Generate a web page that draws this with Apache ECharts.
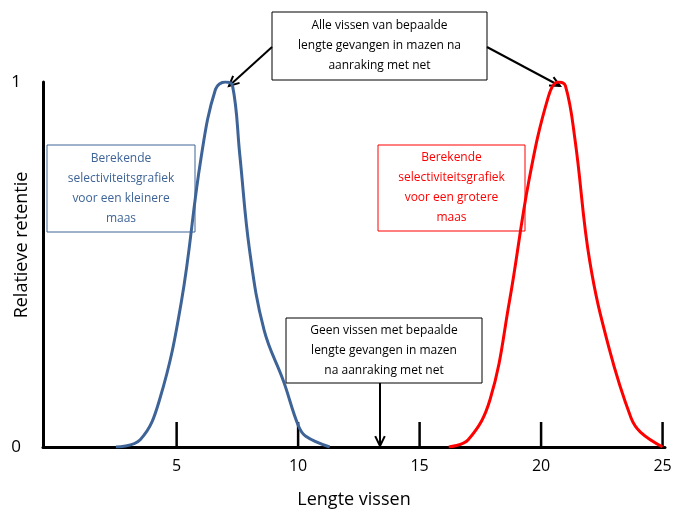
<!DOCTYPE html><html><head><meta charset="utf-8"><script src="https://cdn.jsdelivr.net/npm/echarts@6/dist/echarts.min.js"></script></head><body style="margin:0"><div id="c" style="width:675px;height:514px"></div><script>
const blueX=[2.5,3.5,4.3,5.2,6.0,6.6,7.0,7.3,7.6,8.0,8.6,9.4,10.0,10.3,11.3];
const blueY=[0,0.02,0.13,0.4,0.79,0.98,1,0.99,0.8,0.54,0.32,0.18,0.06,0.03,0];
const redX=[16.2,17.0,17.9,18.7,19.5,20.3,20.7,21.0,21.4,22.0,22.8,23.7,24.1,25.0];
const redY=[0,0.02,0.13,0.4,0.73,0.96,1,0.99,0.84,0.51,0.27,0.08,0.04,0];
const xTicks=[5,10,15,20,25];
const fnt='"Open Sans", sans-serif';
const ch=echarts.init(document.getElementById('c'));
function box(x,y,w,h,lines,color,bcolor){return[{type:'rect',shape:{x,y,width:w,height:h},style:{fill:'#fff',stroke:bcolor,lineWidth:1}},{type:'text',x:x+w/2,y:y+h/2,style:{text:lines.join('\n'),fill:color,font:'12px '+fnt,align:'center',verticalAlign:'middle',lineHeight:20}}];}
function arrow(x1,y1,x2,y2){const a=Math.atan2(y2-y1,x2-x1),L=11,s=0.45;return[{type:'line',shape:{x1,y1,x2,y2},style:{stroke:'#000',lineWidth:2}},{type:'polyline',shape:{points:[[x2-L*Math.cos(a-s),y2-L*Math.sin(a-s)],[x2,y2],[x2-L*Math.cos(a+s),y2-L*Math.sin(a+s)]]},style:{stroke:'#000',lineWidth:2,fill:null}}];}
ch.setOption({animation:false,
grid:{left:43,right:10,top:82,bottom:67},
xAxis:{type:'value',min:-0.5,max:25.1,axisLine:{onZero:false,lineStyle:{color:'#000',width:3}},splitLine:{show:false},
 axisTick:{show:false},axisLabel:{show:false}},
yAxis:{type:'value',min:0,max:1,interval:1,axisLine:{show:true,onZero:false,lineStyle:{color:'#000',width:3}},splitLine:{show:false},axisTick:{show:false},
 axisLabel:{color:'#000',fontSize:17,fontFamily:fnt,margin:22}},
series:[
{type:'line',smooth:0.4,symbol:'none',data:blueX.map((x,i)=>[x,blueY[i]]),lineStyle:{color:'#3e6497',width:3}},
{type:'line',smooth:0.4,symbol:'none',data:redX.map((x,i)=>[x,redY[i]]),lineStyle:{color:'#ff0000',width:3}},
{type:'custom',data:xTicks.map(v=>[v]),renderItem:(p,api)=>{const pt=api.coord([api.value(0),0]);return{type:'group',children:[{type:'line',shape:{x1:pt[0],y1:pt[1],x2:pt[0],y2:pt[1]-25},style:{stroke:'#000',lineWidth:2.5}},{type:'text',x:pt[0],y:pt[1]+11,style:{text:String(api.value(0)),fill:'#000',font:'16px '+fnt,align:'center'}}]};}}
],
graphic:[
...box(272,12,215,68,['Alle vissen van bepaalde','lengte gevangen in mazen na','aanraking met net'],'#000','#000'),
...box(47,145,148,87,['Berekende','selectiviteitsgrafiek','voor een kleinere','maas'],'#3e6497','#3e6497'),
...box(378,145,147,86,['Berekende','selectiviteitsgrafiek','voor een grotere','maas'],'#ff0000','#ff0000'),
...box(286,318,196,65,['Geen vissen met bepaalde','lengte gevangen in mazen','na aanraking met net'],'#000','#000'),
...arrow(272,47,229,86),...arrow(487,47,560,86),...arrow(380,383,380,446),
{type:'text',x:22,y:245,rotation:Math.PI/2,style:{text:'Relatieve retentie',fill:'#000',font:'18px '+fnt,align:'center',verticalAlign:'middle'}},
{type:'text',x:354,y:500,style:{text:'Lengte vissen',fill:'#000',font:'18px '+fnt,align:'center',verticalAlign:'middle'}}
]});
</script></body></html>
